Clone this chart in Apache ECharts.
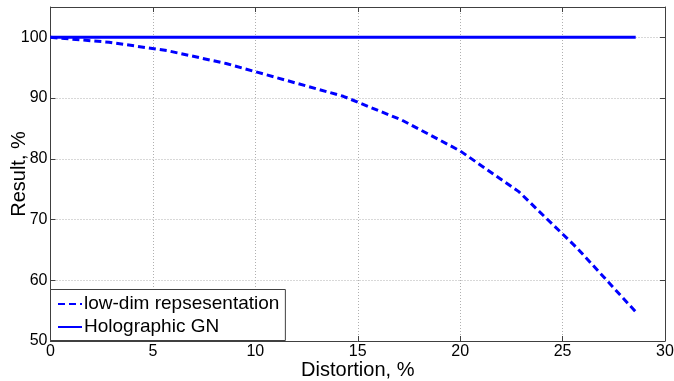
<!DOCTYPE html>
<html><head><meta charset="utf-8">
<script src="https://cdn.jsdelivr.net/npm/echarts@6/dist/echarts.min.js"></script>
<style>html,body{margin:0;padding:0;background:#fff}#c{width:674px;height:381px}</style>
</head><body><div id="c"></div>
<script>
const distortion = [0, 2.857, 5.714, 8.571, 11.43, 14.29, 17.14, 20, 22.86, 25.71, 28.57];
const lowDim = [100, 99.2, 97.8, 95.7, 93.0, 90.3, 86.4, 81.3, 74.6, 65.3, 54.8];
const holo = [100, 100, 100, 100, 100, 100, 100, 100, 100, 100, 100];
const seriesNames = ['low-dim repsesentation', 'Holographic GN'];
const xTicks = [0, 5, 10, 15, 20, 25, 30];
const yTicks = [50, 60, 70, 80, 90, 100];

const font = 'Liberation Sans, Arial, sans-serif';
const axisCol = '#404040';
const gridLine = {show: true, lineStyle: {color: '#b0b0b0', type: [1, 2], width: 1}};
const chart = echarts.init(document.getElementById('c'));
const pair = (ys) => distortion.map((x, i) => [x, ys[i]]);
chart.setOption({
  animation: false,
  grid: {left: 50.5, right: 9, top: 7, bottom: 40, containLabel: false, outerBoundsMode: 'none'},
  xAxis: [{
    type: 'value', min: 0, max: 30, interval: 5, position: 'bottom',
    name: 'Distortion, %', nameLocation: 'middle', nameGap: 19, nameMoveOverlap: false,
    nameTextStyle: {fontFamily: font, fontSize: 20, color: '#000'},
    axisLine: {show: true, onZero: false, lineStyle: {color: axisCol, width: 1}},
    axisTick: {show: true, inside: true, length: 5, lineStyle: {color: axisCol}},
    axisLabel: {fontFamily: font, fontSize: 16, color: '#000', margin: 3,
      formatter: v => xTicks.includes(v) ? String(v) : ''},
    splitLine: gridLine
  }, {
    type: 'value', min: 0, max: 30, interval: 5, position: 'top',
    axisLine: {show: true, onZero: false, lineStyle: {color: axisCol, width: 1}},
    axisTick: {show: true, inside: true, length: 5, lineStyle: {color: axisCol}},
    axisLabel: {show: false}, splitLine: {show: false}
  }],
  yAxis: [{
    type: 'value', min: 50, max: 105, interval: 10, position: 'left',
    name: 'Result, %', nameLocation: 'middle', nameGap: 21, nameMoveOverlap: false,
    nameTextStyle: {fontFamily: font, fontSize: 20, color: '#000'},
    axisLine: {show: true, onZero: false, lineStyle: {color: axisCol, width: 1}},
    axisTick: {show: true, inside: true, length: 5, lineStyle: {color: axisCol}},
    axisLabel: {fontFamily: font, fontSize: 16, color: '#000', margin: 3, showMaxLabel: false,
      formatter: v => yTicks.includes(v) ? String(v) : ''},
    splitLine: gridLine
  }, {
    type: 'value', min: 50, max: 105, interval: 10, position: 'right',
    axisLine: {show: true, onZero: false, lineStyle: {color: axisCol, width: 1}},
    axisTick: {show: true, inside: true, length: 5, lineStyle: {color: axisCol}},
    axisLabel: {show: false}, splitLine: {show: false}
  }],
  legend: {
    orient: 'vertical', left: 50.5, top: 289.5,
    itemWidth: 24, itemHeight: 12, itemGap: 4,
    padding: [5, 6, 4, 6.5],
    backgroundColor: '#fff', borderColor: axisCol, borderWidth: 1, borderRadius: 0,
    itemStyle: {opacity: 0},
    textStyle: {fontFamily: font, fontSize: 19, lineHeight: 19, color: '#000', padding: [0, 0, 0, -3]},
    data: seriesNames
  },
  series: [{
    name: seriesNames[0], type: 'line', data: pair(lowDim), symbol: 'none',
    lineStyle: {color: '#0000ff', width: 3, type: [7, 4]}, itemStyle: {color: '#0000ff'}
  }, {
    name: seriesNames[1], type: 'line', data: pair(holo), symbol: 'none',
    lineStyle: {color: '#0000ff', width: 3, type: 'solid'}, itemStyle: {color: '#0000ff'}
  }]
});
</script></body></html>
